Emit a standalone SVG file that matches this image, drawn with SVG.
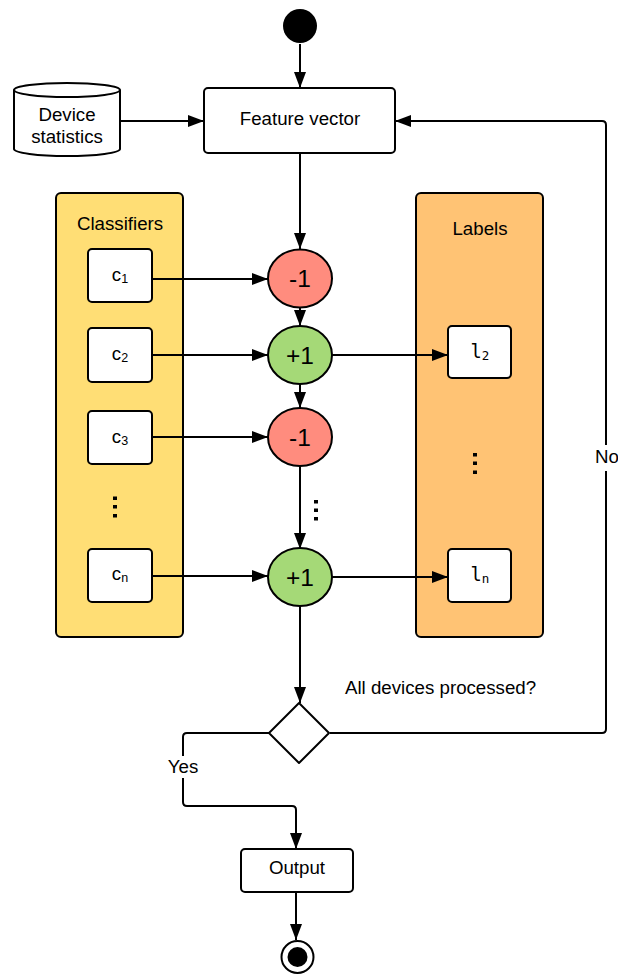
<svg xmlns="http://www.w3.org/2000/svg" width="618" height="976" viewBox="0 0 618 976">
  <style>
    .ln { fill: none; stroke: #000; stroke-width: 2; stroke-linejoin: round; }
    .box { fill: #fff; stroke: #000; stroke-width: 2; }
    .t { font-family: "Liberation Sans", Arial, sans-serif; font-size: 18.7px; fill: #000; text-anchor: middle; }
    .big { font-size: 24.5px; }
    .mono { font-family: "DejaVu Sans Mono", "Liberation Mono", monospace; }
    .sub { font-size: 12.5px; }
    .dot { fill: #000; }
  </style>
  <defs>
    <marker id="arrow" viewBox="0 0 16 12" refX="16" refY="6" markerWidth="16" markerHeight="12" markerUnits="userSpaceOnUse" orient="auto">
      <path d="M0,0 L16,6 L0,12 Z" fill="#000"/>
    </marker>
  </defs>

  <!-- swimlane-style panels sit underneath the connectors -->
  <g id="classifiers">
    <rect x="56" y="193" width="127" height="444" rx="5" fill="#FFDE75" stroke="#000" stroke-width="2"/>
    <text class="t" x="120" y="229.5">Classifiers</text>
    <rect class="dot" x="113" y="496.5" width="4" height="3.5"/>
    <rect class="dot" x="113" y="505" width="4" height="3.5"/>
    <rect class="dot" x="113" y="514" width="4" height="3.5"/>
  </g>

  <g id="labels">
    <rect x="416" y="193" width="127" height="444" rx="5" fill="#FFC374" stroke="#000" stroke-width="2"/>
    <text class="t" x="480" y="235">Labels</text>
    <rect class="dot" x="473" y="453" width="4" height="3.5"/>
    <rect class="dot" x="473" y="461.5" width="4" height="3.5"/>
    <rect class="dot" x="473" y="470.5" width="4" height="3.5"/>
  </g>

  <!-- connectors -->
  <g id="connectors">
    <path class="ln" d="M300,44 V88" marker-end="url(#arrow)"/>
    <path class="ln" d="M120,121 H204" marker-end="url(#arrow)"/>
    <path class="ln" d="M300,153 V249" marker-end="url(#arrow)"/>
    <path class="ln" d="M152,279 H268" marker-end="url(#arrow)"/>
    <path class="ln" d="M152,355 H268" marker-end="url(#arrow)"/>
    <path class="ln" d="M152,437 H268" marker-end="url(#arrow)"/>
    <path class="ln" d="M152,576 H268" marker-end="url(#arrow)"/>
    <path class="ln" d="M300,308 V326" marker-end="url(#arrow)"/>
    <path class="ln" d="M300,384 V408" marker-end="url(#arrow)"/>
    <path class="ln" d="M300,466 V549" marker-end="url(#arrow)"/>
    <path class="ln" d="M332,355 H448" marker-end="url(#arrow)"/>
    <path class="ln" d="M332,577 H448" marker-end="url(#arrow)"/>
    <path class="ln" d="M300,606 V703" marker-end="url(#arrow)"/>
    <!-- loop back when more devices remain -->
    <path class="ln" d="M330,733 H602 Q606,733 606,729 V125 Q606,121 602,121 H395" marker-end="url(#arrow)"/>
    <!-- exit when all devices are done -->
    <path class="ln" d="M269,733 H187 Q183,733 183,737 V802 Q183,806 187,806 H292 Q296,806 296,810 V849" marker-end="url(#arrow)"/>
    <path class="ln" d="M296,892 V940" marker-end="url(#arrow)"/>
    <rect x="592" y="445" width="28" height="26" fill="#fff"/>
    <text class="t" x="607" y="463">No</text>
    <rect x="166" y="756" width="34" height="22" fill="#fff"/>
    <text class="t" x="183" y="773">Yes</text>
    <text class="t" x="345" y="694" style="text-anchor:start">All devices processed?</text>
    <rect class="dot" x="314" y="500" width="4" height="3.5"/>
    <rect class="dot" x="314" y="508.5" width="4" height="3.5"/>
    <rect class="dot" x="314" y="517" width="4" height="3.5"/>
  </g>

  <g id="start">
    <circle cx="300" cy="26" r="17" fill="#000"/>
  </g>

  <g id="device-statistics">
    <path class="box" d="M14,90 V149 A53,7 0 0 0 120,149 V90"/>
    <ellipse class="box" cx="67" cy="90" rx="53" ry="7"/>
    <text class="t" x="67" y="121">Device</text>
    <text class="t" x="67" y="143">statistics</text>
  </g>

  <g id="feature-vector">
    <rect class="box" x="204" y="88" width="191" height="65" rx="4"/>
    <text class="t" x="300" y="124.5">Feature vector</text>
  </g>

  <g id="c1">
    <rect class="box" x="88" y="249" width="64" height="53" rx="4"/>
    <text class="t" x="120" y="281">c<tspan class="sub" dy="1.5">1</tspan></text>
  </g>
  <g id="c2">
    <rect class="box" x="88" y="328" width="64" height="54" rx="4"/>
    <text class="t" x="120" y="360">c<tspan class="sub" dy="1.5">2</tspan></text>
  </g>
  <g id="c3">
    <rect class="box" x="88" y="411" width="64" height="53" rx="4"/>
    <text class="t" x="120" y="443">c<tspan class="sub" dy="1.5">3</tspan></text>
  </g>
  <g id="cn">
    <rect class="box" x="88" y="549" width="64" height="53" rx="4"/>
    <text class="t" x="120" y="580">c<tspan class="sub" dy="1.5">n</tspan></text>
  </g>

  <g id="l2">
    <rect class="box" x="448" y="326" width="63" height="52" rx="4"/>
    <text class="t mono" x="480" y="358">l<tspan class="sub" dy="2">2</tspan></text>
  </g>
  <g id="ln">
    <rect class="box" x="448" y="549" width="63" height="53" rx="4"/>
    <text class="t mono" x="480" y="581">l<tspan class="sub" dy="2">n</tspan></text>
  </g>

  <g id="minus-1">
    <ellipse cx="300" cy="278.5" rx="32" ry="29" fill="#FF8C7E" stroke="#000" stroke-width="2"/>
    <text class="t big" x="300" y="287">-1</text>
  </g>
  <g id="plus-1">
    <ellipse cx="300" cy="355" rx="32" ry="29" fill="#A5D977" stroke="#000" stroke-width="2"/>
    <text class="t big" x="300" y="363.5">+1</text>
  </g>
  <g id="minus-3">
    <ellipse cx="300" cy="437" rx="32" ry="29" fill="#FF8C7E" stroke="#000" stroke-width="2"/>
    <text class="t big" x="300" y="445.5">-1</text>
  </g>
  <g id="plus-n">
    <ellipse cx="300" cy="577" rx="32" ry="29" fill="#A5D977" stroke="#000" stroke-width="2"/>
    <text class="t big" x="300" y="585.5">+1</text>
  </g>

  <g id="decision">
    <path d="M299,703 L329,733 L299,763 L269,733 Z" fill="#fff" stroke="#000" stroke-width="2" stroke-linejoin="round"/>
  </g>

  <g id="output">
    <rect class="box" x="241" y="849" width="112" height="43" rx="4"/>
    <text class="t" x="297" y="874">Output</text>
  </g>

  <g id="end">
    <circle cx="297.5" cy="957" r="16" fill="#fff" stroke="#000" stroke-width="2"/>
    <circle cx="297.5" cy="957" r="10" fill="#000"/>
  </g>
</svg>
